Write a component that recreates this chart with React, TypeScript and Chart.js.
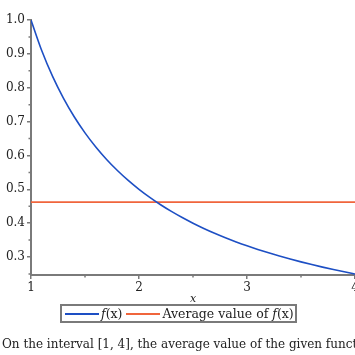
import React, { useEffect, useRef } from "react";
import { Chart, registerables } from "chart.js";

Chart.register(...registerables);

// x positions read along the curve and the value of f at each
const xValues = [1, 1.1, 1.2, 1.3, 1.4, 1.5, 1.6, 1.7, 1.8, 1.9, 2, 2.1, 2.2, 2.3, 2.4, 2.5, 2.6, 2.7, 2.8, 2.9, 3, 3.1, 3.2, 3.3, 3.4, 3.5, 3.6, 3.7, 3.8, 3.9, 4];
const fValues = [1, 0.9091, 0.8333, 0.7692, 0.7143, 0.6667, 0.625, 0.5882, 0.5556, 0.5263, 0.5, 0.4762, 0.4545, 0.4348, 0.4167, 0.4, 0.3846, 0.3704, 0.3571, 0.3448, 0.3333, 0.3226, 0.3125, 0.303, 0.2941, 0.2857, 0.2778, 0.2703, 0.2632, 0.2564, 0.25];
const intervalX = [1, 4];
const averageValue = [0.4621, 0.4621];
const xTickValues = [1, 2, 3, 4];
const xMinorTicks = [1.5, 2.5, 3.5];
const yTickValues = [0.3, 0.4, 0.5, 0.6, 0.7, 0.8, 0.9, 1.0];
const yMinorTicks = [0.25, 0.35, 0.45, 0.55, 0.65, 0.75, 0.85, 0.95];
const seriesLabels = ["f(x)", "Average value of f(x)"];
const captionText = "On the interval [1, 4], the average value of the given function is approximately 0.462.";

const BLUE = "#1d4fc4";
const ORANGE = "#f0653c";
const AXIS = "#7a7a7a";
const SERIF = "'DejaVu Serif', serif";

const minorTickPlugin = {
  id: "minorTicks",
  afterDraw(chart: any) {
    const ctx = chart.ctx;
    const xs = chart.scales.x;
    const ys = chart.scales.y;
    const area = chart.chartArea;
    ctx.save();
    ctx.strokeStyle = AXIS;
    ctx.lineWidth = 1.5;
    ctx.beginPath();
    yMinorTicks.forEach((v) => {
      const py = ys.getPixelForValue(v);
      ctx.moveTo(area.left - 2.5, py);
      ctx.lineTo(area.left, py);
    });
    xMinorTicks.forEach((v) => {
      const px = xs.getPixelForValue(v);
      ctx.moveTo(px, area.bottom);
      ctx.lineTo(px, area.bottom + 2.5);
    });
    ctx.stroke();
    ctx.restore();
  },
};

export default function App() {
  const ref = useRef<HTMLCanvasElement | null>(null);

  useEffect(() => {
    if (!ref.current) return;
    const chart = new Chart(ref.current, {
      type: "line",
      data: {
        datasets: [
          {
            label: seriesLabels[0],
            data: xValues.map((x, i) => ({ x, y: fValues[i] })),
            borderColor: BLUE,
            borderWidth: 1.6,
            pointRadius: 0,
            cubicInterpolationMode: "monotone",
            fill: false,
          },
          {
            label: seriesLabels[1],
            data: intervalX.map((x, i) => ({ x, y: averageValue[i] })),
            borderColor: ORANGE,
            borderWidth: 1.6,
            pointRadius: 0,
            fill: false,
          },
        ],
      },
      options: {
        animation: false,
        responsive: false,
        maintainAspectRatio: false,
        layout: { padding: { left: 0, right: 45, top: 20, bottom: 0 } },
        plugins: { legend: { display: false }, tooltip: { enabled: false } },
        scales: {
          x: {
            type: "linear",
            min: 1,
            max: 4,
            afterBuildTicks: (s: any) => {
              s.ticks = xTickValues.map((v) => ({ value: v }));
            },
            afterFit: (s: any) => {
              s.height = 35;
            },
            border: { color: AXIS, width: 2 },
            grid: { drawOnChartArea: false, drawTicks: true, tickLength: 4, color: AXIS, lineWidth: 1.5 },
            ticks: {
              padding: 2,
              color: "#222",
              font: { family: SERIF, size: 12 },
              maxRotation: 0,
              callback: (v: any) => String(v),
            },
            title: {
              display: true,
              text: "x",
              color: "#222",
              font: { family: SERIF, size: 11, style: "italic" },
              padding: { top: 0, bottom: 4 },
            },
          },
          y: {
            type: "linear",
            min: 0.247,
            max: 1.0,
            afterBuildTicks: (s: any) => {
              s.ticks = yTickValues.map((v) => ({ value: v }));
            },
            afterFit: (s: any) => {
              s.width = 31;
            },
            border: { color: AXIS, width: 2 },
            grid: { drawOnChartArea: false, drawTicks: true, tickLength: 4, color: AXIS, lineWidth: 1.5 },
            ticks: {
              padding: 2,
              color: "#222",
              font: { family: SERIF, size: 12 },
              callback: (v: any) => Number(v).toFixed(1),
            },
          },
        },
      },
      plugins: [minorTickPlugin],
    } as any);
    return () => chart.destroy();
  }, []);

  return (
    <div style={{ position: "fixed", left: 0, top: 0, width: 355, height: 355, overflow: "hidden", background: "#fff" }}>
      <canvas ref={ref} width={400} height={310} style={{ position: "absolute", left: 0, top: 0, width: 400, height: 310 }} />
      <div
        style={{
          position: "absolute",
          left: 60,
          top: 304,
          width: 237,
          height: 19,
          boxSizing: "border-box",
          border: `2px solid ${AXIS}`,
          display: "flex",
          alignItems: "center",
          fontFamily: SERIF,
          fontSize: 12.5,
          color: "#222",
          whiteSpace: "nowrap",
          paddingLeft: 3,
        }}
      >
        <span style={{ display: "inline-block", width: 34, height: 2, background: BLUE, marginRight: 2 }} />
        <span>
          <i>f</i>(x)
        </span>
        <span style={{ display: "inline-block", width: 34, height: 2, background: ORANGE, marginLeft: 4, marginRight: 2 }} />
        <span>
          Average value of <i>f</i>(x)
        </span>
      </div>
      <div
        style={{
          position: "absolute",
          left: 2,
          top: 337,
          fontFamily: SERIF,
          fontSize: 12,
          color: "#222",
          whiteSpace: "nowrap",
        }}
      >
        {captionText}
      </div>
    </div>
  );
}
